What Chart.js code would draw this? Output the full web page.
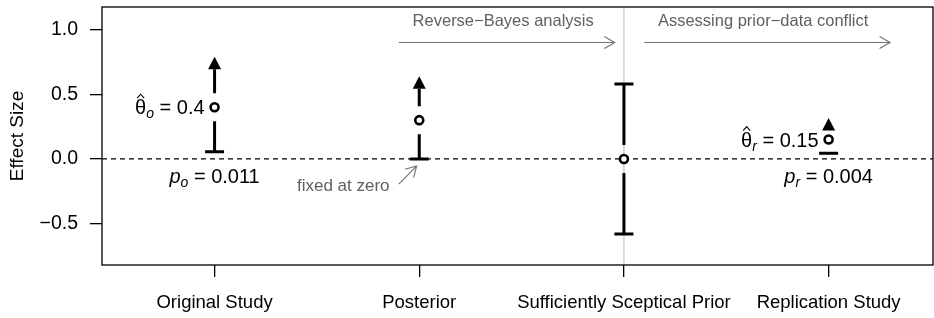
<!DOCTYPE html>
<html>
<head>
<meta charset="utf-8">
<script src="https://cdn.jsdelivr.net/npm/chart.js@4.4.0/dist/chart.umd.min.js"></script>
<style>
  html, body { margin: 0; padding: 0; background: #fff; }
  #wrap { width: 934px; height: 318px; }
</style>
</head>
<body>
<div id="wrap"><canvas id="effectChart" width="934" height="318"></canvas></div>
<script>
// data
var categories = ['Original Study', 'Posterior', 'Sufficiently Sceptical Prior', 'Replication Study'];
var estimates = [0.4, 0.3, 0, 0.15];
var lowerLimits = [0.056, 0, -0.58, 0.044];
var upperLimits = [0.79, 0.64, 0.58, 0.317];
var upperIsArrow = [true, true, false, true];
var estimateLabels = [['o', '0.4'], null, null, ['r', '0.15']];
var pLabels = [['o', '0.011'], null, null, ['r', '0.004']];
var yTicks = [-0.5, 0, 0.5, 1];
var yTickLabels = ['\u22120.5', '0.0', '0.5', '1.0'];

var FONT = '"Liberation Sans", Arial, Helvetica, sans-serif';

function drawMathLabel(ctx, x, yMid, letter, sub, value, align, italicLetter) {
  var mainFont = (italicLetter ? 'italic ' : '') + '20px ' + FONT;
  var subFont = 'italic 14px ' + FONT;
  var restFont = '20px ' + FONT;
  ctx.font = mainFont;
  var wL = ctx.measureText(letter).width;
  ctx.font = subFont;
  var wS = ctx.measureText(sub).width;
  ctx.font = restFont;
  var rest = ' = ' + value;
  var wR = ctx.measureText(rest).width;
  var total = wL + wS + wR;
  var x0 = align === 'right' ? x - total : x - total / 2;
  var base = yMid + 7;
  ctx.save();
  ctx.fillStyle = '#000';
  ctx.textAlign = 'left';
  ctx.textBaseline = 'alphabetic';
  ctx.font = mainFont;
  ctx.fillText(letter, x0, base);
  ctx.font = subFont;
  ctx.fillText(sub, x0 + wL, base + 4);
  ctx.font = restFont;
  ctx.fillText(rest, x0 + wL + wS, base);
  if (!italicLetter) {
    // hat over theta
    var cx = x0 + wL / 2;
    ctx.strokeStyle = '#000';
    ctx.lineWidth = 1.1;
    ctx.beginPath();
    ctx.moveTo(cx - 3.5, base - 16);
    ctx.lineTo(cx, base - 20);
    ctx.lineTo(cx + 3.5, base - 16);
    ctx.stroke();
  }
  ctx.restore();
}

function grayArrow(ctx, x1, y1, x2, y2) {
  var ang = Math.atan2(y2 - y1, x2 - x1);
  var head = 12;
  ctx.beginPath();
  ctx.moveTo(x1, y1);
  ctx.lineTo(x2, y2);
  ctx.moveTo(x2 - head * Math.cos(ang - Math.PI / 6), y2 - head * Math.sin(ang - Math.PI / 6));
  ctx.lineTo(x2, y2);
  ctx.lineTo(x2 - head * Math.cos(ang + Math.PI / 6), y2 - head * Math.sin(ang + Math.PI / 6));
  ctx.stroke();
}

function noPadding(scale) {
  scale.paddingTop = 0;
  scale.paddingBottom = 0;
  scale.paddingLeft = 0;
  scale.paddingRight = 0;
}

var figurePlugin = {
  id: 'figurePlugin',
  beforeDatasetsDraw: function (chart) {
    var ctx = chart.ctx, area = chart.chartArea;
    var xs = chart.scales.x, ys = chart.scales.y;
    ctx.save();

    // separator at the sceptical prior
    ctx.strokeStyle = '#c8c8c8';
    ctx.lineWidth = 1.3;
    ctx.beginPath();
    ctx.moveTo(xs.getPixelForValue(3), area.top);
    ctx.lineTo(xs.getPixelForValue(3), area.bottom);
    ctx.stroke();

    // zero line
    ctx.strokeStyle = '#000';
    ctx.lineWidth = 1.2;
    ctx.setLineDash([5, 4]);
    ctx.beginPath();
    ctx.moveTo(area.left, ys.getPixelForValue(0));
    ctx.lineTo(area.right, ys.getPixelForValue(0));
    ctx.stroke();
    ctx.setLineDash([]);

    // box
    ctx.lineWidth = 1.3;
    ctx.strokeRect(area.left, area.top, area.right - area.left, area.bottom - area.top);

    // intervals
    var gap = 14, capHalf = 9.5, headH = 12.5, headHalf = 6.5;
    ctx.lineWidth = 3;
    ctx.fillStyle = '#000';
    categories.forEach(function (c, i) {
      var px = xs.getPixelForValue(i + 1);
      var pc = ys.getPixelForValue(estimates[i]);
      var lo = ys.getPixelForValue(lowerLimits[i]);
      var up = ys.getPixelForValue(upperLimits[i]);
      ctx.beginPath();
      if (lo > pc + gap) { ctx.moveTo(px, pc + gap); ctx.lineTo(px, lo); }
      ctx.moveTo(px - capHalf, lo); ctx.lineTo(px + capHalf, lo);
      if (upperIsArrow[i]) {
        var baseY = up + headH;
        if (pc - gap > baseY) { ctx.moveTo(px, pc - gap); ctx.lineTo(px, baseY); }
        ctx.stroke();
        ctx.beginPath();
        ctx.moveTo(px, up);
        ctx.lineTo(px - headHalf, baseY);
        ctx.lineTo(px + headHalf, baseY);
        ctx.closePath();
        ctx.fill();
      } else {
        if (pc - gap > up) { ctx.moveTo(px, pc - gap); ctx.lineTo(px, up); }
        ctx.moveTo(px - capHalf, up); ctx.lineTo(px + capHalf, up);
        ctx.stroke();
      }
    });

    // labels next to the estimates and p-values below
    categories.forEach(function (c, i) {
      var px = xs.getPixelForValue(i + 1);
      if (estimateLabels[i]) {
        drawMathLabel(ctx, px - 10, ys.getPixelForValue(estimates[i]), '\u03b8', estimateLabels[i][0], estimateLabels[i][1], 'right', false);
      }
      if (pLabels[i]) {
        drawMathLabel(ctx, px, ys.getPixelForValue(-0.135), 'p', pLabels[i][0], pLabels[i][1], 'center', true);
      }
    });

    // gray annotations
    ctx.strokeStyle = '#707070';
    ctx.fillStyle = '#606060';
    ctx.lineWidth = 1.1;
    ctx.font = '16.5px ' + FONT;
    ctx.textAlign = 'center';
    ctx.textBaseline = 'middle';
    var ay = ys.getPixelForValue(0.9);
    grayArrow(ctx, xs.getPixelForValue(1.9), ay, xs.getPixelForValue(2.955), ay);
    grayArrow(ctx, xs.getPixelForValue(3.1), ay, xs.getPixelForValue(4.3), ay);
    ctx.fillText('Reverse\u2212Bayes analysis', xs.getPixelForValue(2.41), ys.getPixelForValue(1.06));
    ctx.fillText('Assessing prior\u2212data conflict', xs.getPixelForValue(3.68), ys.getPixelForValue(1.06));
    ctx.textAlign = 'right';
    ctx.font = '17px ' + FONT;
    ctx.fillText('fixed at zero', xs.getPixelForValue(1.855), ys.getPixelForValue(-0.21));
    grayArrow(ctx, xs.getPixelForValue(1.9), ys.getPixelForValue(-0.195), xs.getPixelForValue(1.987), ys.getPixelForValue(-0.055));
    ctx.restore();
  }
};

new Chart(document.getElementById('effectChart'), {
  type: 'scatter',
  data: {
    datasets: [{
      data: estimates.map(function (v, i) { return { x: i + 1, y: v }; }),
      pointStyle: 'circle',
      pointRadius: 4,
      pointBorderWidth: 2.6,
      pointBorderColor: '#000',
      pointBackgroundColor: '#fff',
      showLine: false
    }]
  },
  options: {
    responsive: false,
    animation: false,
    layout: { autoPadding: false, padding: { top: 7, right: 1, left: 0, bottom: 0 } },
    plugins: { legend: { display: false }, tooltip: { enabled: false } },
    scales: {
      x: {
        type: 'linear',
        min: 0.45,
        max: 4.51,
        afterBuildTicks: function (scale) {
          scale.ticks = categories.map(function (c, i) { return { value: i + 1 }; });
        },
        afterFit: function (scale) { scale.height = 53; noPadding(scale); },
        ticks: {
          autoSkip: false,
          maxRotation: 0,
          padding: 15,
          color: '#000',
          font: { family: FONT, size: 18.5 },
          callback: function (v) { return categories[v - 1]; }
        },
        grid: { drawOnChartArea: false, drawTicks: true, tickLength: 12, color: '#000', lineWidth: 1.3 },
        border: { display: false }
      },
      y: {
        min: -0.82,
        max: 1.175,
        afterBuildTicks: function (scale) {
          scale.ticks = yTicks.map(function (v) { return { value: v }; });
        },
        afterFit: function (scale) { scale.width = 102; noPadding(scale); },
        title: { display: true, text: 'Effect Size', color: '#000', font: { family: FONT, size: 19 }, padding: { top: 6, bottom: 0 } },
        ticks: {
          padding: 12,
          color: '#000',
          font: { family: FONT, size: 19.5 },
          callback: function (v) { return yTickLabels[yTicks.indexOf(v)]; }
        },
        grid: { drawOnChartArea: false, drawTicks: true, tickLength: 12, color: '#000', lineWidth: 1.3 },
        border: { display: false }
      }
    }
  },
  plugins: [figurePlugin]
});
</script>
</body>
</html>
